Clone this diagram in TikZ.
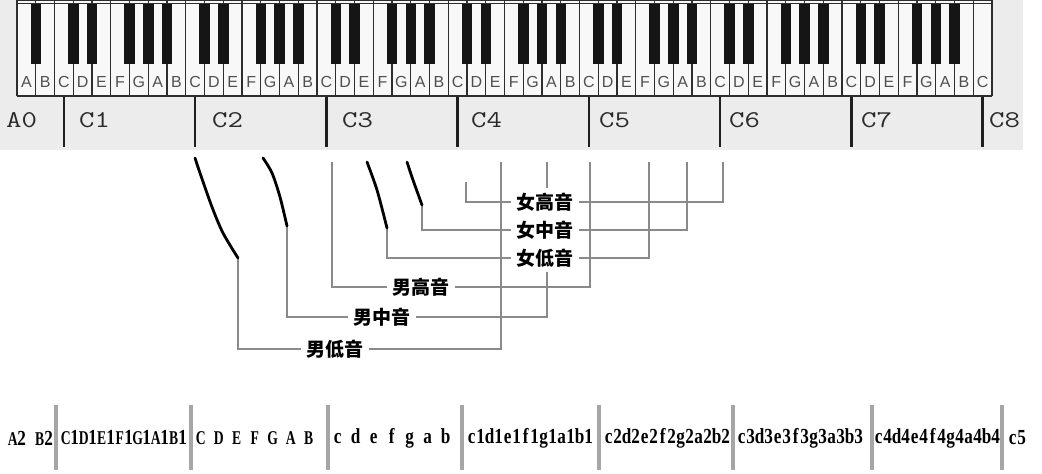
\documentclass[tikz,border=0pt]{standalone}
\usepackage{fontspec}
\setmainfont{Liberation Sans}
\newfontfamily\cjkfont{Noto Sans CJK SC}
\newfontfamily\serifbold{Liberation Serif}
\usetikzlibrary{backgrounds}
\definecolor{bggray}{HTML}{ECECEC}
\definecolor{keywhite}{HTML}{F8F8F8}
\definecolor{keyline}{HTML}{2E2E2E}
\definecolor{blackkey}{HTML}{151515}
\definecolor{lettergray}{HTML}{505050}
\definecolor{octgray}{HTML}{2A2A2A}
\definecolor{markcol}{HTML}{1E1E1E}
\definecolor{bracketcol}{HTML}{8A8A8A}
\definecolor{sepcol}{HTML}{A6A6A6}
% fixed-width character cells for the notation row
\newcommand\notecell[1]{\makebox[9pt][c]{\ifnum\uccode`#1=`#1 \scalebox{0.7}[1]{#1}\else\scalebox{0.88}[1.1]{#1}\fi}}
\def\notecellsA#1{\ifx#1\relax\else\notecell{#1}\expandafter\notecellsA\fi}
\newcommand\notecells[1]{\notecellsA#1\relax}
\newcommand\octtext[1]{\scalebox{1.25}[1]{\ttfamily #1}}
\tikzset{
  keyletter/.style={font=\fontsize{16}{16}\selectfont, text=lettergray, inner sep=0pt},
  octlabel/.style={font=\fontsize{24}{24}\selectfont, text=octgray, anchor=west, inner sep=0pt},
  octmark/.style={draw=markcol, line width=2.4pt},
  voice/.style={font=\cjkfont\bfseries\fontsize{19}{19}\selectfont, fill=white, inner xsep=5pt, inner ysep=5pt},
  bracket/.style={draw=bracketcol, line width=2.3pt},
  pencil/.style={draw=black, line width=2.8pt, line cap=round, line join=round},
  notation/.style={font=\serifbold\bfseries\fontsize{19.5}{19.5}\selectfont, text=black, anchor=west, inner sep=0pt},
  sepbar/.style={draw=sepcol, line width=3.5pt}
}
\begin{document}
\begin{tikzpicture}[x=1pt,y=-1pt]
\useasboundingbox (0,0) rectangle (1042,474);
% ---------- keyboard ----------
\fill[bggray] (0,0) rectangle (1023,150);
\fill[keywhite] (17,0) rectangle (992,96);
\foreach \i in {0,...,52}{
  \draw[keyline, line width=1.1pt] ({17+\i*18.75},0) -- ({17+\i*18.75},96);
}
\foreach \i in {0,...,50}{
  \pgfmathtruncatemacro\m{mod(\i,7)}
  \ifnum\m=1 \else \ifnum\m=4 \else
    \fill[blackkey] ({17+(\i+1)*18.75-5.25},3) rectangle ++(10.5,61);
  \fi\fi
}
\draw[keyline, line width=1.1pt] (17,0.4) -- (992,0.4);
\draw[keyline, line width=1.1pt] (17,3.5) -- (992,3.5);
\draw[keyline, line width=1.3pt] (17,96) -- (992,96);
\foreach \i in {0,...,51}{
  \pgfmathtruncatemacro\m{mod(\i,7)}
  \pgfmathsetmacro\xc{17+(\i+0.5)*18.75}
  \node[keyletter] (key\i) at (\xc,82) {\ifcase\m A\or B\or C\or D\or E\or F\or G\fi};
}
% ---------- octave marks ----------
\foreach \n in {1,...,8}{
  \pgfmathsetmacro\xc{17+(2+7*(\n-1)+0.5)*18.75}
  \coordinate (mkt\n) at (\xc,97);
  \coordinate (mkb\n) at (\xc,147);
  \draw[octmark] (mkt\n) -- (mkb\n);
}
\node[octlabel] (oA0) at (6,120) {\octtext{A0}};
\node[octlabel] (oC1) at (79,120) {\octtext{C1}};
\node[octlabel] (oC2) at (212,120) {\octtext{C2}};
\node[octlabel] (oC3) at (342,120) {\octtext{C3}};
\node[octlabel] (oC4) at (471,120) {\octtext{C4}};
\node[octlabel] (oC5) at (599,120) {\octtext{C5}};
\node[octlabel] (oC6) at (729,120) {\octtext{C6}};
\node[octlabel] (oC7) at (861,120) {\octtext{C7}};
\node[octlabel] (oC8) at (989,120) {\octtext{C8}};
% ---------- voice ranges ----------
\node[voice] (fHigh) at (545,202) {女高音};
\node[voice] (fMid)  at (545,230) {女中音};
\node[voice] (fLow)  at (545,258) {女低音};
\node[voice] (mHigh) at (421,287) {男高音};
\node[voice] (mMid)  at (382,317) {男中音};
\node[voice] (mLow)  at (335,349) {男低音};
% bracket ends
\coordinate (mLa) at (238,258);  \coordinate (mLb) at (501,162);
\coordinate (mMa) at (287,226);  \coordinate (mMb) at (547,162);
\coordinate (mHa) at (332,162);  \coordinate (mHb) at (590,162);
\coordinate (fLa) at (387,228);  \coordinate (fLb) at (649,162);
\coordinate (fMa) at (422,205);  \coordinate (fMb) at (687,162);
\coordinate (fHa) at (466,182);  \coordinate (fHb) at (723,162);
% pencil starts
\coordinate (p1) at (195,158);
\coordinate (p2) at (263,158);
\coordinate (p4) at (367,162);
\coordinate (p5) at (407,162);
\begin{scope}[on background layer]
  \draw[bracket] (mLa) |- (mLow.west);  \draw[bracket] (mLow.east) -| (mLb);
  \draw[bracket] (mMa) |- (mMid.west);  \draw[bracket] (mMid.east) -| (mMb);
  \draw[bracket] (mHa) |- (mHigh.west); \draw[bracket] (mHigh.east) -| (mHb);
  \draw[bracket] (fLa) |- (fLow.west);  \draw[bracket] (fLow.east) -| (fLb);
  \draw[bracket] (fMa) |- (fMid.west);  \draw[bracket] (fMid.east) -| (fMb);
  \draw[bracket] (fHa) |- (fHigh.west); \draw[bracket] (fHigh.east) -| (fHb);
\end{scope}
\draw[pencil] plot[smooth, tension=0.5] coordinates {(p1) (200,173) (212,207) (223,233) (mLa)};
\draw[pencil] plot[smooth, tension=0.5] coordinates {(p2) (272,173) (280,197) (mMa)};
\draw[pencil] plot[smooth, tension=0.5] coordinates {(p4) (377,190) (fLa)};
\draw[pencil] plot[smooth, tension=0.5] coordinates {(p5) (413,180) (fMa)};
% ---------- notation row ----------
\foreach \x in {56,191,328,462,599,733,872,1002}{
  \draw[sepbar] (\x,405) -- (\x,470);
}
\node[notation] (n0) at (8,438)   {\notecells{A2~B2}};
\node[notation] (n1) at (61,438)  {\notecells{C1D1E1F1G1A1B1}};
\node[notation] (n2) at (196,438) {\notecells{C~D~E~F~G~A~B}};
\node[notation] (n3) at (333,438) {\notecells{c~d~e~f~g~a~b}};
\node[notation] (n4) at (467,438) {\notecells{c1d1e1f1g1a1b1}};
\node[notation] (n5) at (604,438) {\notecells{c2d2e2f2g2a2b2}};
\node[notation] (n6) at (737,438) {\notecells{c3d3e3f3g3a3b3}};
\node[notation] (n7) at (874,438) {\notecells{c4d4e4f4g4a4b4}};
\node[notation] (n8) at (1008,438){\notecells{c5}};
\end{tikzpicture}
\end{document}
